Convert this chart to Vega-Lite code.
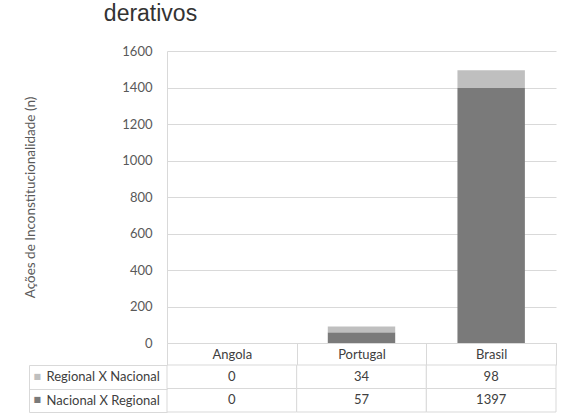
{
  "$schema": "https://vega.github.io/schema/vega-lite/v6.json",
  "background": "white",
  "padding": {"left": 23, "top": 3, "right": 0, "bottom": 0},
  "title": {"text": "derativos", "anchor": "start", "font": "Liberation Sans", "fontSize": 23, "fontWeight": "normal", "color": "#333333", "dx": 80, "offset": 19},
  "data": {"values": [
    {"country": "Angola", "series": "Regional X Nacional", "value": 0},
    {"country": "Portugal", "series": "Regional X Nacional", "value": 34},
    {"country": "Brasil", "series": "Regional X Nacional", "value": 98},
    {"country": "Angola", "series": "Nacional X Regional", "value": 0},
    {"country": "Portugal", "series": "Nacional X Regional", "value": 57},
    {"country": "Brasil", "series": "Nacional X Regional", "value": 1397}
  ]},
  "bounds": "flush",
  "spacing": 22,
  "vconcat": [
    {
      "width": 389,
      "height": 292,
      "mark": {"type": "bar", "width": {"band": 0.52}},
      "encoding": {
        "x": {"field": "country", "type": "nominal", "sort": ["Angola", "Portugal", "Brasil"],
          "scale": {"paddingInner": 0, "paddingOuter": 0},
          "axis": {"title": null, "labelAngle": 0, "tickBand": "extent", "tickSize": 22, "tickColor": "#d9d9d9", "domainColor": "#d9d9d9", "labelPadding": -11, "labelBaseline": "middle", "labelColor": "#404040", "labelFont": "Lato", "labelFontSize": 13}},
        "y": {"field": "value", "type": "quantitative", "stack": "zero", "scale": {"domain": [0, 1600]},
          "axis": {"values": [0, 200, 400, 600, 800, 1000, 1200, 1400, 1600], "format": "d", "title": "Ações de Inconstitucionalidade (n)", "ticks": false, "labelPadding": 15, "gridColor": "#d9d9d9", "domainColor": "#d9d9d9", "titlePadding": 84, "labelColor": "#595959", "labelFont": "Lato", "labelFontSize": 13, "titleFont": "Lato", "titleFontSize": 13.5, "titleFontWeight": "normal", "titleColor": "#595959"}},
        "color": {"field": "series", "type": "nominal", "scale": {"domain": ["Regional X Nacional", "Nacional X Regional"], "range": ["#bfbfbf", "#7a7a7a"]}, "legend": null},
        "order": {"field": "series", "sort": "ascending"}
      }
    },
    {
      "width": 389,
      "height": 47,
      "layer": [
        {
          "mark": {"type": "rect", "fill": "white", "stroke": "#d9d9d9", "strokeWidth": 1},
          "encoding": {
            "x": {"field": "country", "type": "nominal", "sort": ["Angola", "Portugal", "Brasil"], "scale": {"paddingInner": 0, "paddingOuter": 0}, "axis": null},
            "y": {"field": "series", "type": "nominal", "sort": ["Regional X Nacional", "Nacional X Regional"], "scale": {"paddingInner": 0, "paddingOuter": 0},
              "axis": {"orient": "left", "title": null, "tickBand": "extent", "tickSize": 138, "tickColor": "#d9d9d9", "domain": false, "labelAlign": "left", "labelPadding": -17, "labelColor": "#404040", "labelFont": "Lato", "labelFontSize": 13}}
          }
        },
        {
          "mark": {"type": "text", "font": "Lato", "fontSize": 13, "color": "#404040"},
          "encoding": {
            "x": {"field": "country", "type": "nominal", "sort": ["Angola", "Portugal", "Brasil"], "axis": null},
            "y": {"field": "series", "type": "nominal", "sort": ["Regional X Nacional", "Nacional X Regional"],
              "axis": {"orient": "left", "title": null, "offset": 138, "domainColor": "#d9d9d9", "ticks": false, "tickSize": 0, "labelAlign": "left", "labelPadding": -4, "labelExpr": "'■'", "labelFont": "DejaVu Sans", "labelFontSize": 8, "labelColor": {"condition": {"test": "datum.value == 'Regional X Nacional'", "value": "#bfbfbf"}, "value": "#7a7a7a"}}},
            "text": {"field": "value", "type": "quantitative"}
          }
        }
      ],
      "resolve": {"axis": {"y": "independent"}}
    }
  ],
  "config": {"view": {"stroke": null}}
}
